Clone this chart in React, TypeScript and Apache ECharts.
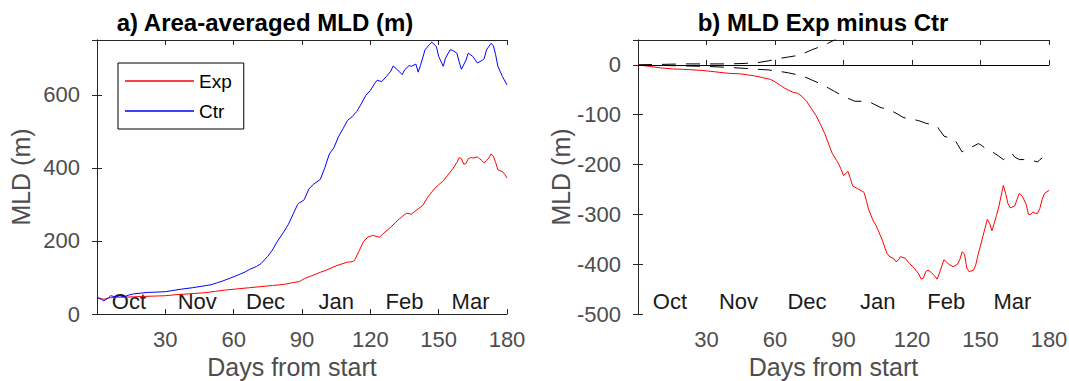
import React, { useEffect, useRef } from "react";
import * as echarts from "echarts";

// ---------- data ----------
const ctrDays = [0, 2, 3, 5, 6, 8, 10, 12, 14, 16, 19, 22, 26, 30, 33, 37, 42, 47, 50, 53, 55, 58, 62, 65, 67, 70, 72, 75, 77, 79, 82, 84, 86, 88, 89, 90, 91, 93, 95, 98, 100, 102, 104, 106, 108, 110, 112, 114, 116, 118, 120, 122, 123, 125, 127, 129, 130, 132, 134, 135, 137, 138, 140, 141, 142, 144, 146, 147, 149, 150, 152, 153, 155, 156, 158, 159, 160, 162, 163, 165, 167, 169, 170, 171, 173, 174, 175, 176, 178, 180];
const ctrVals = [45, 40, 36, 44, 50, 47, 50, 47, 52, 55, 57, 59, 60, 61, 64, 68, 72, 77, 80, 86, 90, 97, 107, 115, 122, 130, 138, 158, 175, 197, 225, 245, 272, 299, 305, 308, 313, 342, 355, 368, 400, 438, 455, 485, 507, 530, 540, 554, 575, 598, 612, 632, 640, 636, 650, 665, 679, 668, 655, 668, 680, 678, 684, 662, 680, 723, 738, 744, 732, 705, 678, 700, 723, 722, 714, 690, 670, 695, 714, 705, 687, 694, 699, 723, 741, 735, 710, 678, 650, 627];

const expDays = [0, 2, 3, 5, 8, 12, 16, 20, 25, 30, 35, 40, 47, 52, 57, 62, 67, 72, 77, 82, 86, 89, 90, 91, 94, 98, 101, 105, 108, 110, 112, 113, 115, 117, 119, 121, 123, 124, 126, 129, 131, 133, 135, 136, 138, 140, 143, 145, 148, 150, 152, 154, 156, 158, 159, 160, 161, 162, 163, 164, 165, 167, 168, 169, 170, 171, 172, 173, 174, 175, 176, 177, 178, 179, 180];
const expVals = [45, 42, 40, 44, 46, 46, 47, 48, 49, 50, 53, 55, 58, 62, 66, 69, 72, 75, 78, 81, 86, 89, 93, 97, 104, 114, 121, 132, 138, 142, 143, 146, 172, 198, 211, 215, 212, 210, 222, 238, 250, 262, 272, 276, 273, 283, 297, 318, 342, 354, 364, 380, 396, 415, 428, 425, 410, 412, 425, 428, 427, 430, 425, 420, 413, 420, 427, 438, 432, 415, 395, 392, 390, 382, 372];

const diffDays = [0, 5, 10, 15, 20, 28, 34, 40, 45, 48, 51, 54, 58, 60, 62, 64, 66, 68, 70, 72, 74, 76, 78, 80, 82, 84, 85, 87, 88, 89, 90, 91, 92, 93, 94, 96, 98, 99, 100, 101, 103, 104, 105, 107, 109, 110, 112, 113, 114, 115, 117, 119, 121, 123, 124, 125, 126, 127, 128, 130, 131, 132, 134, 135, 136, 138, 140, 141, 142, 143, 144, 145, 147, 148, 149, 151, 153, 154, 155, 156, 157, 158, 160, 161, 162, 163, 165, 166, 167, 168, 169, 170, 171, 172, 173, 174, 175, 176, 177, 178, 180];
const diffVals = [0, -3, -6, -8, -9, -11, -14, -17, -18, -20, -22, -25, -29, -34, -40, -46, -51, -55, -57, -64, -74, -88, -102, -120, -140, -165, -177, -192, -200, -210, -222, -218, -214, -228, -243, -248, -253, -256, -272, -290, -313, -320, -330, -352, -378, -384, -389, -395, -392, -385, -388, -399, -408, -420, -430, -428, -415, -412, -415, -424, -430, -418, -391, -395, -400, -405, -400, -390, -375, -380, -408, -415, -412, -400, -380, -345, -310, -318, -333, -318, -302, -285, -242, -258, -278, -287, -283, -270, -258, -262, -270, -280, -300, -300, -295, -298, -298, -288, -270, -258, -252];

const lowerDays = [0, 10, 20, 30, 40, 47, 53, 57, 62, 66, 70, 73, 76, 79, 82, 84, 86, 88, 90, 92, 95, 98, 101, 103, 106, 108, 111, 113, 116, 118, 121, 123, 126, 128, 131, 132, 134, 136, 139, 140, 142, 143, 145, 147, 149, 150, 152, 154, 156, 158, 160, 162, 163, 164, 165, 167, 169, 171, 173, 175, 176, 177];
const lowerVals = [0, -1, -2, -3, -5, -7, -9, -10, -13, -16, -20, -24, -30, -36, -43, -48, -53, -58, -63, -67, -73, -73, -73, -78, -85, -88, -92, -97, -105, -108, -110, -112, -117, -119, -123, -130, -143, -146, -152, -160, -175, -170, -165, -163, -158, -160, -167, -172, -177, -183, -190, -184, -178, -179, -185, -190, -190, -190, -192, -195, -190, -187];

const upperDays = [0, 10, 20, 30, 40, 47, 53, 57, 62, 66, 70, 73, 76, 80, 83, 86, 88, 90];
const upperVals = [0, 1, 2, 2, 2, 3, 5, 8, 13, 16, 19, 24, 30, 37, 43, 50, 56, 62];

const monthNames = ["Oct", "Nov", "Dec", "Jan", "Feb", "Mar"];
const monthDays = [14, 44, 74, 105, 135, 164];

const titleA = "a) Area-averaged MLD (m)";
const titleB = "b) MLD Exp minus Ctr";

// ---------- helpers ----------
const zip = (xs: number[], ys: number[]) => xs.map((x, i) => [x, ys[i]]);
const FONT = '"Liberation Sans", Arial, Helvetica, sans-serif';
const TICK_GRAY = "#4d4d4d";
const AXIS_DARK = "#262626";

function xAxes(gridIndex: number) {
  const base = { type: "value", gridIndex, min: 0, max: 180, interval: 30, splitLine: { show: false } };
  return [
    {
      ...base,
      position: "bottom",
      axisLine: { show: true, lineStyle: { color: AXIS_DARK, width: 1 } },
      axisTick: { show: true, inside: true, length: 5, lineStyle: { color: AXIS_DARK } },
      axisLabel: {
        fontSize: 22, color: TICK_GRAY, fontFamily: FONT, margin: 14,
        formatter: (v: number) => (v === 0 ? "" : String(v)),
      },
      name: "Days from start",
      nameLocation: "middle",
      nameGap: 36,
      nameTextStyle: { fontSize: 25, color: TICK_GRAY, fontFamily: FONT, padding: [0, 20, 0, 0] },
    },
    {
      ...base,
      position: "bottom",
      axisLine: { show: false },
      axisTick: { show: false },
      axisLabel: {
        inside: true,
        customValues: monthDays,
        fontSize: 22, color: "#1a1a1a", fontFamily: FONT, margin: 2,
        formatter: (v: number) => {
          const i = monthDays.indexOf(v);
          return i >= 0 ? monthNames[i] : "";
        },
      },
    },
    {
      ...base,
      position: "top",
      axisLine: { show: true, lineStyle: { color: AXIS_DARK, width: 1 } },
      axisTick: { show: true, inside: true, length: 5, lineStyle: { color: AXIS_DARK } },
      axisLabel: { show: false },
    },
  ];
}

function yAxes(gridIndex: number, min: number, max: number, interval: number, nameGap: number, margin: number) {
  const base = { type: "value", gridIndex, min, max, interval, splitLine: { show: false } };
  return [
    {
      ...base,
      position: "left",
      axisLine: { show: true, lineStyle: { color: AXIS_DARK, width: 1 } },
      axisTick: { show: true, inside: true, length: 5, lineStyle: { color: AXIS_DARK } },
      axisLabel: {
        fontSize: 22, color: TICK_GRAY, fontFamily: FONT, margin,
        formatter: (v: number) => (v % interval === 0 && v !== max ? String(v) : ""),
      },
      name: "MLD (m)",
      nameLocation: "middle",
      nameGap,
      nameTextStyle: { fontSize: 25, color: TICK_GRAY, fontFamily: FONT },
    },
    {
      ...base,
      position: "right",
      axisLine: { show: true, lineStyle: { color: AXIS_DARK, width: 1 } },
      axisTick: { show: true, inside: true, length: 5, lineStyle: { color: AXIS_DARK } },
      axisLabel: { show: false },
    },
  ];
}

export default function App() {
  const ref = useRef<HTMLDivElement>(null);

  useEffect(() => {
    if (!ref.current) return;
    const chart = echarts.init(ref.current, undefined, { renderer: "svg" });
    const dashed = { color: "#000", width: 1, type: [14, 10] as any };
    chart.setOption({
      animation: false,
      backgroundColor: "#fff",
      textStyle: { fontFamily: FONT },
      grid: [
        { left: 97, top: 40, width: 410, height: 274, containLabel: false, outerBoundsMode: "none" },
        { left: 638, top: 40, width: 411, height: 274, containLabel: false, outerBoundsMode: "none" },
      ],
      xAxis: [...xAxes(0), ...xAxes(1)],
      yAxis: [...yAxes(0, 0, 750, 200, 64, 17), ...yAxes(1, -500, 50, 100, 64, 17)],
      legend: {
        data: ["Exp", "Ctr"],
        orient: "vertical",
        left: 118,
        top: 63,
        padding: [8, 12, 8, 7],
        itemGap: 10,
        itemWidth: 69,
        itemHeight: 1.5,
        icon: "rect",
        borderColor: "#000",
        borderWidth: 1,
        backgroundColor: "#fff",
        textStyle: { fontSize: 19, color: "#000", fontFamily: FONT, lineHeight: 20 },
      },
      graphic: [
        {
          type: "text", x: 265, y: 22, silent: true,
          style: { text: titleA, font: `bold 24px ${FONT}`, fill: "#000", align: "center", verticalAlign: "middle" },
        },
        {
          type: "text", x: 823, y: 22, silent: true,
          style: { text: titleB, font: `bold 24px ${FONT}`, fill: "#000", align: "center", verticalAlign: "middle" },
        },
      ],
      series: [
        {
          name: "Exp", type: "line", xAxisIndex: 0, yAxisIndex: 0, symbol: "none",
          data: zip(expDays, expVals), lineStyle: { color: "#ff0000", width: 1 }, itemStyle: { color: "#ff0000" },
        },
        {
          name: "Ctr", type: "line", xAxisIndex: 0, yAxisIndex: 0, symbol: "none",
          data: zip(ctrDays, ctrVals), lineStyle: { color: "#0000ff", width: 1 }, itemStyle: { color: "#0000ff" },
        },
        {
          name: "Upper", type: "line", xAxisIndex: 3, yAxisIndex: 2, symbol: "none", clip: true,
          data: zip(upperDays, upperVals), lineStyle: dashed, itemStyle: { color: "#000" },
        },
        {
          name: "Lower", type: "line", xAxisIndex: 3, yAxisIndex: 2, symbol: "none", clip: true,
          data: zip(lowerDays, lowerVals), lineStyle: dashed, itemStyle: { color: "#000" },
        },
        {
          name: "Exp minus Ctr", type: "line", xAxisIndex: 3, yAxisIndex: 2, symbol: "none", clip: true,
          data: zip(diffDays, diffVals), lineStyle: { color: "#ff0000", width: 1 }, itemStyle: { color: "#ff0000" },
          markLine: {
            silent: true, symbol: "none", label: { show: false },
            lineStyle: { color: "#000", width: 1, type: "solid" },
            data: [{ yAxis: 0 }],
          },
        },
      ],
    });
    return () => chart.dispose();
  }, []);

  return (
    <div
      ref={ref}
      style={{ position: "absolute", left: 0, top: 0, width: 1069, height: 381, background: "#fff" }}
    />
  );
}
